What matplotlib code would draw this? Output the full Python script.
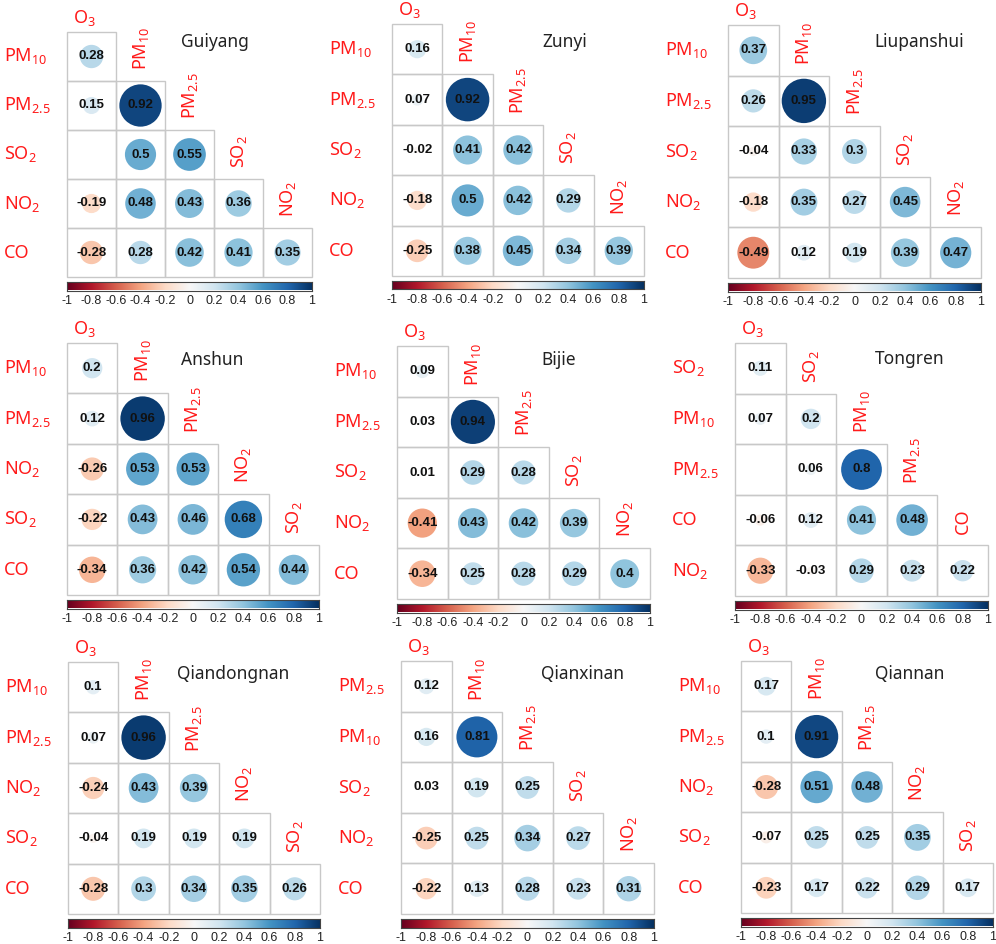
import numpy as np
import matplotlib.pyplot as plt
from matplotlib.patches import Circle, Rectangle
from matplotlib.colors import Normalize

nan = np.nan

# city names
cities = ['Guiyang', 'Zunyi', 'Liupanshui', 'Anshun', 'Bijie', 'Tongren',
          'Qiandongnan', 'Qianxinan', 'Qiannan']

# row / column labels of each panel
rows = [
    ['PM10', 'PM2.5', 'SO2', 'NO2', 'CO'],
    ['PM10', 'PM2.5', 'SO2', 'NO2', 'CO'],
    ['PM10', 'PM2.5', 'SO2', 'NO2', 'CO'],
    ['PM10', 'PM2.5', 'NO2', 'SO2', 'CO'],
    ['PM10', 'PM2.5', 'SO2', 'NO2', 'CO'],
    ['SO2', 'PM10', 'PM2.5', 'CO', 'NO2'],
    ['PM10', 'PM2.5', 'NO2', 'SO2', 'CO'],
    ['PM2.5', 'PM10', 'SO2', 'NO2', 'CO'],
    ['PM10', 'PM2.5', 'NO2', 'SO2', 'CO'],
]
cols = [
    ['O3', 'PM10', 'PM2.5', 'SO2', 'NO2'],
    ['O3', 'PM10', 'PM2.5', 'SO2', 'NO2'],
    ['O3', 'PM10', 'PM2.5', 'SO2', 'NO2'],
    ['O3', 'PM10', 'PM2.5', 'NO2', 'SO2'],
    ['O3', 'PM10', 'PM2.5', 'SO2', 'NO2'],
    ['O3', 'SO2', 'PM10', 'PM2.5', 'CO'],
    ['O3', 'PM10', 'PM2.5', 'NO2', 'SO2'],
    ['O3', 'PM10', 'PM2.5', 'SO2', 'NO2'],
    ['O3', 'PM10', 'PM2.5', 'NO2', 'SO2'],
]

# lower triangle correlations (nan = blank cell)
corr = [
    [[0.28], [0.15, 0.92], [nan, 0.5, 0.55], [-0.19, 0.48, 0.43, 0.36],
     [-0.28, 0.28, 0.42, 0.41, 0.35]],
    [[0.16], [0.07, 0.92], [-0.02, 0.41, 0.42], [-0.18, 0.5, 0.42, 0.29],
     [-0.25, 0.38, 0.45, 0.34, 0.39]],
    [[0.37], [0.26, 0.95], [-0.04, 0.33, 0.3], [-0.18, 0.35, 0.27, 0.45],
     [-0.49, 0.12, 0.19, 0.39, 0.47]],
    [[0.2], [0.12, 0.96], [-0.26, 0.53, 0.53], [-0.22, 0.43, 0.46, 0.68],
     [-0.34, 0.36, 0.42, 0.54, 0.44]],
    [[0.09], [0.03, 0.94], [0.01, 0.29, 0.28], [-0.41, 0.43, 0.42, 0.39],
     [-0.34, 0.25, 0.28, 0.29, 0.4]],
    [[0.11], [0.07, 0.2], [nan, 0.06, 0.8], [-0.06, 0.12, 0.41, 0.48],
     [-0.33, -0.03, 0.29, 0.23, 0.22]],
    [[0.1], [0.07, 0.96], [-0.24, 0.43, 0.39], [-0.04, 0.19, 0.19, 0.19],
     [-0.28, 0.3, 0.34, 0.35, 0.26]],
    [[0.12], [0.16, 0.81], [0.03, 0.19, 0.25], [-0.25, 0.25, 0.34, 0.27],
     [-0.22, 0.13, 0.28, 0.23, 0.31]],
    [[0.17], [0.1, 0.91], [-0.28, 0.51, 0.48], [-0.07, 0.25, 0.25, 0.35],
     [-0.23, 0.17, 0.22, 0.29, 0.17]],
]

cbar_ticks = [-1, -0.8, -0.6, -0.4, -0.2, 0, 0.2, 0.4, 0.6, 0.8, 1]
cbar_labels = ['-1', '-0.8', '-0.6', '-0.4', '-0.2', '0', '0.2', '0.4', '0.6', '0.8', '1']

# layout in pixels: grid left, top, right ; title centre
W, H = 996, 944
grids = [(67, 32, 312), (392, 24, 644), (728, 25, 981),
         (67, 343, 319), (397, 346, 650), (735, 343, 988),
         (68, 662, 320), (401, 661, 654), (741, 661, 993)]
titles = [(215, 42), (565, 42), (919, 42),
          (212, 360), (559, 360), (910, 359),
          (233, 674), (583, 674), (910, 674)]

RED = '#ff1a1a'
LAB_FONT = 'Noto Sans'
NUM_FONT = 'Liberation Sans'


def pretty(name):
    subs = {'O3': ('O', '3'), 'PM10': ('PM', '10'), 'PM2.5': ('PM', '2.5'),
            'SO2': ('SO', '2'), 'NO2': ('NO', '2')}
    if name in subs:
        a, b = subs[name]
        return r'$\mathregular{%s_{%s}}$' % (a, b)
    return name


cmap = plt.get_cmap('RdBu')
norm = Normalize(-1, 1)

fig = plt.figure(figsize=(W / 100, H / 100), dpi=100)

for k in range(9):
    left, top, right = grids[k]
    size = right - left
    ax = fig.add_axes([left / W, 1 - (top + size) / H, size / W, size / H])
    ax.set_xlim(0, 5)
    ax.set_ylim(5, 0)
    ax.axis('off')
    px = 5.0 / size  # data units per pixel

    for r in range(5):
        for c in range(r + 1):
            ax.add_patch(Rectangle((c, r), 1, 1, facecolor='none',
                                   edgecolor='#c8c8c8', lw=1.0, clip_on=False))
            v = corr[k][r][c]
            if np.isnan(v):
                continue
            ax.add_patch(Circle((c + 0.5, r + 0.5), 0.45 * np.sqrt(abs(v)),
                                facecolor=cmap(norm(v)), edgecolor='none'))
            ax.text(c + 0.5, r + 0.5, '%g' % v, ha='center', va='center',
                    fontsize=9.5, fontweight='bold', family=NUM_FONT, color='#111111')

    # row labels
    for r, name in enumerate(rows[k]):
        ax.text(-63 * px, r + 0.5, pretty(name), ha='left', va='center',
                fontsize=13, color=RED, family=LAB_FONT, clip_on=False)
    # column labels
    for c, name in enumerate(cols[k]):
        if c == 0:
            ax.text(0.35, -14 * px, pretty(name), ha='center', va='center',
                    fontsize=13, color=RED, family=LAB_FONT, clip_on=False)
        else:
            ax.text(c + 0.5, c - 11 * px, pretty(name), ha='center', va='bottom',
                    rotation=90, fontsize=13, color=RED, family=LAB_FONT,
                    clip_on=False)

    # title
    tx, ty = titles[k]
    fig.text(tx / W, 1 - ty / H, cities[k], ha='center', va='center',
             fontsize=12.5, family=LAB_FONT, color='#222222')

    # colour bar
    cb_top = top + size + 5
    cax = fig.add_axes([left / W, 1 - (cb_top + 8.5) / H, size / W, 8.5 / H])
    grad = np.linspace(-1, 1, 256).reshape(1, -1)
    cax.imshow(grad, cmap=cmap, norm=norm, aspect='auto', extent=[-1, 1, 0, 1])
    cax.set_yticks([])
    cax.set_xticks(cbar_ticks)
    cax.set_xticklabels(cbar_labels, fontsize=9, family=NUM_FONT, color='#222222')
    cax.tick_params(axis='x', length=0, pad=3)
    for sp in cax.spines.values():
        sp.set_linewidth(0.8)
        sp.set_color('#444444')

fig.savefig('out.png', dpi=100)
